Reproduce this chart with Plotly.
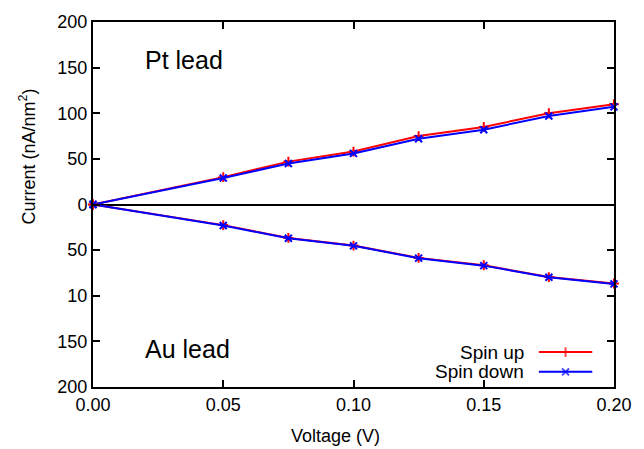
import plotly.graph_objects as go

voltage = [0.0, 0.05, 0.075, 0.1, 0.125, 0.15, 0.175, 0.2]
pt_spin_up = [0, 30, 47, 58, 75, 85, 100, 110]
pt_spin_down = [0, 29, 45, 56, 72, 82, 97, 107]
au_spin_up = [0, -22.6, -36.6, -45.0, -58.5, -66.6, -79.5, -86.6]
au_spin_down = [0, -23, -37, -45.3, -58.8, -67, -79.8, -87]

y_tickvals = [200, 150, 100, 50, 0, -50, -100, -150, -200]
y_ticktext = ["200", "150", "100", "50", "0", "50", "10", "150", "200"]
x_tickvals = [0.0, 0.05, 0.1, 0.15, 0.2]

series_names = ["Spin up", "Spin down"]
RED = "#ff0000"
BLUE = "#0000ff"
FONT = "Liberation Sans, Arial, sans-serif"

fig = go.Figure()

def add(y, color, symbol):
    fig.add_trace(go.Scatter(
        x=voltage, y=y, mode="lines+markers", cliponaxis=False,
        line=dict(color=color, width=2),
        marker=dict(symbol=symbol, size=7, color=color,
                    line=dict(color=color, width=2)),
        showlegend=False, hoverinfo="x+y"))

add(pt_spin_up, RED, "cross-thin")
add(pt_spin_down, BLUE, "x-thin")
add(au_spin_up, RED, "cross-thin")
add(au_spin_down, BLUE, "x-thin")

# custom legend (gnuplot style: text left, sample right) on an overlay axis
legend_y = [0.0957, 0.0415]
for name, color, symbol, ly in zip(series_names, [RED, BLUE], ["cross-thin", "x-thin"], legend_y):
    fig.add_trace(go.Scatter(
        x=[0.8558, 0.907, 0.9583], y=[ly, ly, ly], xaxis="x2", yaxis="y2",
        mode="lines+markers", cliponaxis=False,
        line=dict(color=color, width=2),
        marker=dict(symbol=symbol, size=[0, 7, 0], color=color,
                    line=dict(color=color, width=2)),
        showlegend=False, hoverinfo="skip"))
    fig.add_annotation(x=0.832, y=ly, xref="paper", yref="paper",
                       text=name, showarrow=False, xanchor="right", yanchor="middle",
                       font=dict(size=19, color="black", family=FONT))

axis_common = dict(showline=True, linecolor="black", linewidth=2, mirror="ticks",
                   ticks="inside", ticklen=7, tickwidth=1.5, tickcolor="black",
                   showgrid=False, tickfont=dict(size=18, color="black", family=FONT))

fig.update_layout(
    width=644, height=449,
    margin=dict(l=93, r=24, t=18, b=62),
    paper_bgcolor="white", plot_bgcolor="white",
    font=dict(family=FONT, size=18, color="black"),
    xaxis=dict(range=[0, 0.2], tickvals=x_tickvals, tickformat=".2f",
               zeroline=False, **axis_common),
    yaxis=dict(range=[-200, 200], tickvals=y_tickvals, ticktext=y_ticktext,
               zeroline=True, zerolinecolor="black", zerolinewidth=2, **axis_common),
    xaxis2=dict(range=[0, 1], overlaying="x", visible=False, fixedrange=True),
    yaxis2=dict(range=[0, 1], overlaying="y", visible=False, fixedrange=True),
)

fig.add_annotation(x=0.466, y=-0.133, xref="paper", yref="paper", text="Voltage (V)",
                   showarrow=False, xanchor="center", yanchor="middle",
                   font=dict(size=18, family=FONT))
fig.add_annotation(x=-0.125, y=0.631, xref="paper", yref="paper",
                   text="Current (nA/nm<sup>2</sup>)", textangle=-90,
                   showarrow=False, xanchor="center", yanchor="middle",
                   font=dict(size=18, family=FONT))
fig.add_annotation(x=0.174, y=0.897, xref="paper", yref="paper", text="Pt lead",
                   showarrow=False, xanchor="center", yanchor="middle",
                   font=dict(size=25, family=FONT))
fig.add_annotation(x=0.181, y=0.103, xref="paper", yref="paper", text="Au lead",
                   showarrow=False, xanchor="center", yanchor="middle",
                   font=dict(size=25, family=FONT))

fig.write_html("out.html", config={"displayModeBar": False},
               post_script="document.body.style.margin='0px';")
